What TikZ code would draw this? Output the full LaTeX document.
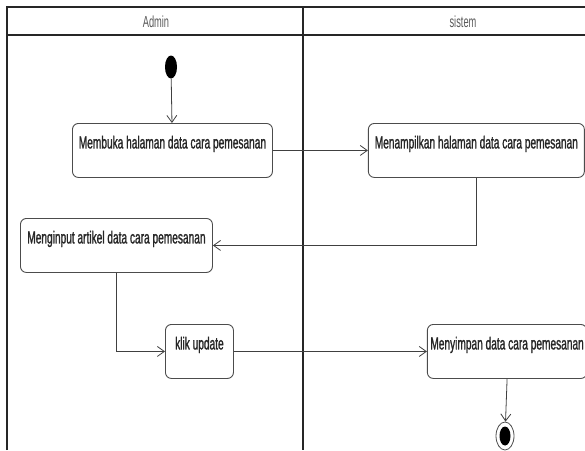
\documentclass[tikz,border=0pt]{standalone}
\usepackage{fontspec}
\setmainfont[FakeStretch=0.58]{Liberation Sans}
\newfontfamily\actfont[FakeStretch=0.58,FakeBold=1.2]{Liberation Sans}
\usetikzlibrary{positioning,arrows.meta,shapes.geometric}

\begin{document}
\begin{tikzpicture}[x=1pt,y=-1pt,
        act/.style={rectangle, rounded corners=6pt, draw=black!70, line width=0.9pt,
            font=\actfont\fontsize{17.5}{19}\selectfont, text=black!85,
            inner xsep=3pt, inner ysep=4pt, text height=21pt, text depth=25pt},
        lane/.style={line width=1.6pt, black!85},
        head/.style={font=\fontsize{16}{18}\selectfont, text=black!65},
        flow/.style={draw=black!75, line width=0.8pt, -{Straight Barb[length=7pt,width=10pt]}}
    ]
        \useasboundingbox (0,0) rectangle (585,450);

        % swimlanes
        \draw[lane] (7,450) -- (7,7) -- (585,7);
        \draw[lane] (7,35) -- (585,35);
        \draw[lane] (303,7) -- (303,450);
        \node[head] (admin) at (156,22) {Admin};
        \node[head] (sistem) at (463,22) {sistem};

        % activities
        \node[ellipse, fill=black, minimum width=12pt, minimum height=23pt, inner sep=0pt] (start) at (171,67) {};
        \node[act, anchor=north west, minimum width=200pt] (open) at (72,123) {Membuka halaman data cara pemesanan};
        \node[act, right=95pt of open, minimum width=216pt] (show) {Menampilkan halaman data cara pemesanan};
        \node[act, anchor=north west, minimum width=192pt] (input) at (20,218) {Menginput artikel data cara pemesanan};
        \node[act, anchor=north west, minimum width=68pt] (klik) at (165,324) {klik update};
        \node[act, right=193pt of klik, minimum width=158pt] (save) {Menyimpan data cara pemesanan};
        \node[ellipse, draw=black!70, line width=0.8pt, minimum width=18pt, minimum height=28pt, inner sep=0pt] (finish) at (505,436) {};
        \node[ellipse, fill=black, minimum width=11pt, minimum height=19pt, inner sep=0pt] (finishdot) at (finish) {};

        \draw[flow] (start) -- (open);
        \draw[flow] (open) -- (show);
        \draw[flow] (show.south) |- (input.east);
        \draw[flow] (input.south) |- (klik.west);
        \draw[flow] (klik) -- (save);
        \draw[flow] (save.south) -- (finish);
    \end{tikzpicture}
\end{document}
